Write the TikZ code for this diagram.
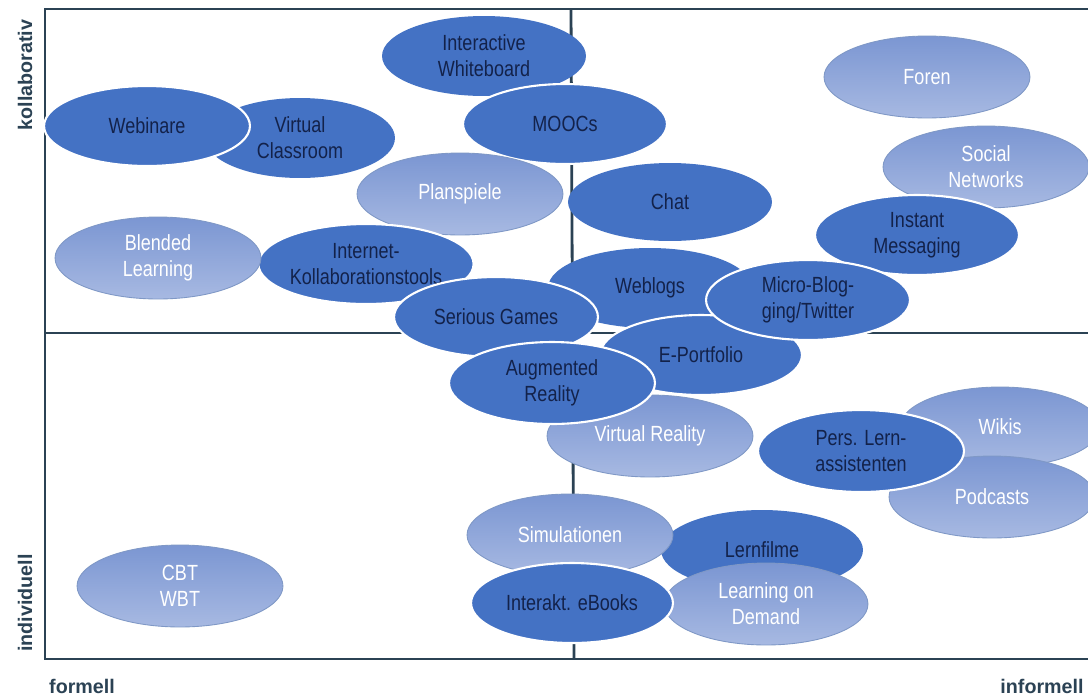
\documentclass[tikz,border=0pt]{standalone}
\usepackage{fontspec}
\usetikzlibrary{shapes.geometric}
\setmainfont{Liberation Sans}[FakeStretch=0.82]
\newfontfamily\axisfont{Liberation Sans}
\begin{document}
\begin{tikzpicture}[x=0.02cm,y=-0.02cm,
  sz/.style 2 args={minimum width=#1*0.04cm, minimum height=#2*0.04cm},
  bub/.style={ellipse, inner sep=0pt, align=center,
    font=\fontsize{12.5}{14.8}\selectfont},
  dk/.style={bub, fill=dkblue, text=txtdark},
  dkw/.style={dk, draw=white, line width=1.2pt},
  lt/.style={bub, top color=lttop, bottom color=ltbot, draw=ltline, line width=0.5pt, text=white},
  axisline/.style={draw=axcol, line width=1.3pt},
  axislabel/.style={text=axcol, font=\axisfont\bfseries\fontsize{11.2}{13}\selectfont, inner sep=0pt}]
\definecolor{dkblue}{HTML}{4472C4}
\definecolor{txtdark}{HTML}{13224A}
\definecolor{lttop}{HTML}{7B96D2}
\definecolor{ltbot}{HTML}{A7B9E2}
\definecolor{ltline}{HTML}{7F98C6}
\definecolor{axcol}{HTML}{2B4254}
\useasboundingbox[fill=white] (0,0) rectangle (1088,697);
% frame
\coordinate (tl) at (45,9);
\coordinate (tr) at (1088,9);
\coordinate (bl) at (45,659);
\coordinate (br) at (1088,659);
\coordinate (ml) at (45,333);
\coordinate (mr) at (1088,333);
\coordinate (mt) at (571,9);
\coordinate (mb) at (574,659);
\draw[axisline] (tr) -- (tl) -- (bl) -- (br);
\draw[axisline, line width=1.6pt] (ml) -- (mr);
\draw[axisline, line width=1.6pt] (mt) -- (mb);
% axis labels
\node[axislabel, rotate=90] (kol) at (25,75) {kollaborativ};
\node[axislabel, rotate=90] (ind) at (25,603) {individuell};
\node[axislabel] (for) at (82,686) {formell};
\node[axislabel] (inf) at (1042,686) {informell};
% bubbles, back to front
\node[dk, sz={95}{40}] (vc) at (300,138) {Virtual\\Classroom};
\node[dkw, sz={103}{40}] (web) at (147,126) {Webinare};
\node[dk, sz={102}{40}] (iwb) at (484,56) {Interactive\\Whiteboard};
\node[dkw, sz={102}{40}] (mooc) at (565,124) {MOOCs};
\node[lt, sz={103}{41}] (foren) at (927,77) {Foren};
\node[lt, sz={103}{41}] (plan) at (460,194) {Planspiele};
\node[dkw, sz={102}{40}] (ikt) at (366,264) {Internet-\\Kollaborationstools};
\node[dk, sz={102}{39}] (chat) at (670,202) {Chat};
\node[lt, sz={103}{41}] (sn) at (986,167) {Social\\Networks};
\node[dkw, sz={102}{40}] (im) at (917,235) {Instant\\Messaging};
\node[lt, sz={103}{41}] (blend) at (158,258) {Blended\\Learning};
\node[dk, sz={102}{40}] (wbl) at (650,288) {Weblogs};
\node[dkw, sz={102}{40}] (sg) at (496,317) {Serious Games};
\node[dkw, sz={101}{40}] (ep) at (701,355) {E-Portfolio};
\node[dkw, sz={102}{40}] (micro) at (808,300) {Micro-Blog-\\ging/Twitter};
\node[lt, sz={103}{41}] (vr) at (650,436) {Virtual Reality};
\node[dkw, sz={103}{41}] (ar) at (552,383) {Augmented\\Reality};
\node[lt, sz={100}{40}] (wik) at (1000,427) {Wikis};
\node[lt, sz={103}{41}] (pod) at (992,497) {Podcasts};
\node[dkw, sz={103}{41}] (pla) at (861,451) {Pers. Lern-\\assistenten};
\node[dk, sz={101}{40}] (lf) at (762,550) {Lernfilme};
\node[lt, sz={102}{41}] (lod) at (766,604) {Learning on\\Demand};
\node[lt, sz={103}{41}] (sim) at (570,535) {Simulationen};
\node[dkw, sz={101}{40}] (ebk) at (572,603) {Interakt. eBooks};
\node[lt, sz={103}{41}] (cbt) at (180,586) {CBT\\WBT};
\end{tikzpicture}
\end{document}
